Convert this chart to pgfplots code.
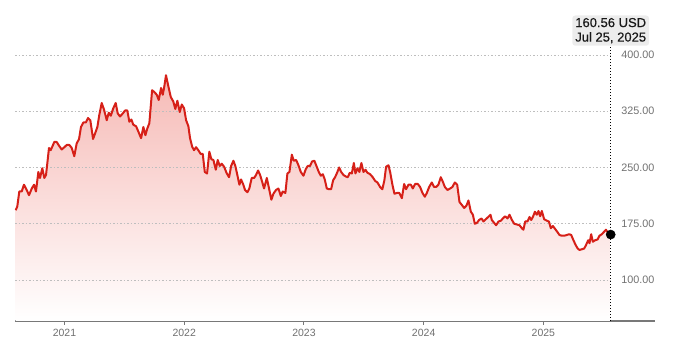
\documentclass[border=0pt]{standalone}
\usepackage{pgfplots}
\pgfplotsset{compat=1.18}
\usepackage{pgfplotstable}
\usepackage{fontspec}
\setmainfont{Liberation Sans}
\newfontface\tipfont{Liberation Sans}[FakeBold=0.6]
\definecolor{linered}{RGB}{214,32,24}
\definecolor{filltop}{RGB}{246,186,182}
\definecolor{fillmid}{RGB}{254,238,237}
\definecolor{ticktext}{RGB}{112,112,112}
\definecolor{axisgray}{RGB}{120,120,120}
\definecolor{gridgray}{RGB}{190,190,190}
\definecolor{tipbg}{RGB}{236,236,236}

\pgfplotstableread{
x y
2020.593 193
2020.606 198
2020.623 218
2020.643 218
2020.662 227
2020.685 220
2020.704 213
2020.727 222
2020.746 227
2020.762 218
2020.782 244
2020.796 236
2020.815 249
2020.832 236
2020.846 240
2020.871 276
2020.885 273
2020.899 278
2020.915 284
2020.935 284
2020.955 279
2020.977 274
2020.999 277
2021.019 280
2021.041 280
2021.061 276
2021.082 265
2021.102 282
2021.122 288
2021.138 304
2021.158 310
2021.178 310
2021.197 316
2021.216 313
2021.239 288
2021.255 295
2021.275 304
2021.291 320
2021.311 336
2021.331 327
2021.353 313
2021.370 323
2021.387 319
2021.408 329
2021.428 336
2021.445 322
2021.464 318
2021.487 322
2021.506 326
2021.525 326
2021.542 311
2021.559 314
2021.575 307
2021.598 305
2021.617 298
2021.640 289
2021.659 304
2021.676 293
2021.692 302
2021.709 309
2021.732 353
2021.748 351
2021.771 347
2021.787 340
2021.807 356
2021.821 347
2021.834 358
2021.848 373
2021.868 358
2021.888 344
2021.909 338
2021.926 328
2021.943 339
2021.963 324
2021.980 334
2021.999 329
2022.016 313
2022.035 305
2022.049 289
2022.066 278
2022.082 273
2022.099 277
2022.118 273
2022.138 268
2022.155 268
2022.172 244
2022.191 242
2022.210 271
2022.227 261
2022.244 260
2022.264 247
2022.280 260
2022.297 252
2022.314 255
2022.333 251
2022.356 242
2022.375 237
2022.392 252
2022.411 259
2022.427 252
2022.444 240
2022.461 227
2022.475 234
2022.494 227
2022.508 220
2022.528 217
2022.544 222
2022.564 236
2022.584 236
2022.600 240
2022.617 246
2022.634 240
2022.651 231
2022.667 222
2022.690 236
2022.706 224
2022.728 207
2022.745 215
2022.767 220
2022.787 222
2022.807 212
2022.823 218
2022.845 216
2022.862 242
2022.879 244
2022.899 267
2022.915 259
2022.935 260
2022.954 253
2022.974 244
2022.996 239
2023.016 248
2023.032 252
2023.051 252
2023.068 258
2023.087 259
2023.107 251
2023.124 244
2023.141 239
2023.158 241
2023.174 234
2023.191 222
2023.210 221
2023.227 221
2023.244 233
2023.260 237
2023.277 243
2023.294 250
2023.311 244
2023.330 240
2023.350 238
2023.366 237
2023.383 243
2023.400 242
2023.417 256
2023.430 242
2023.447 249
2023.463 244
2023.480 256
2023.497 244
2023.514 247
2023.530 243
2023.553 241
2023.575 237
2023.595 232
2023.614 230
2023.636 224
2023.655 221
2023.672 233
2023.686 251
2023.706 253
2023.720 244
2023.739 227
2023.756 215
2023.776 216
2023.797 216
2023.818 209
2023.837 228
2023.853 221
2023.873 227
2023.893 227
2023.909 222
2023.929 228
2023.951 228
2023.970 224
2023.990 216
2024.010 211
2024.026 216
2024.046 224
2024.068 230
2024.087 224
2024.104 224
2024.123 227
2024.143 237
2024.160 231
2024.177 224
2024.199 220
2024.221 222
2024.240 224
2024.260 230
2024.280 227
2024.299 204
2024.319 200
2024.338 196
2024.357 199
2024.374 206
2024.394 191
2024.411 187
2024.427 175
2024.444 176
2024.463 180
2024.483 182
2024.499 178
2024.519 181
2024.539 184
2024.558 187
2024.569 180
2024.589 176
2024.605 173
2024.625 178
2024.645 179
2024.661 182
2024.681 185
2024.700 182
2024.717 187
2024.737 180
2024.756 175
2024.778 174
2024.800 173
2024.820 169
2024.833 167
2024.848 178
2024.867 178
2024.884 184
2024.898 180
2024.912 184
2024.929 191
2024.945 187
2024.959 192
2024.973 185
2024.987 192
2025.006 181
2025.029 179
2025.046 178
2025.062 169
2025.079 172
2025.098 168
2025.117 164
2025.134 160
2025.154 159
2025.174 159
2025.196 160
2025.215 161
2025.232 160
2025.251 153
2025.268 147
2025.286 142
2025.302 140
2025.322 141
2025.341 142
2025.357 147
2025.374 153
2025.385 149
2025.399 161
2025.413 151
2025.432 153
2025.452 154
2025.468 159
2025.488 161
2025.505 164
2025.522 167
2025.535 164
2025.562 160.56
}\pricedata

\begin{document}
\begin{tikzpicture}[x=1pt,y=1pt]
\path[use as bounding box] (0,0) rectangle (680,347);
\begin{axis}[
  at={(15pt,26pt)}, anchor=south west,
  scale only axis, width=640pt, height=311pt,
  xmin=2020.587, xmax=2025.932,
  ymin=45.3, ymax=460,
  separate axis lines,
  axis x line*=bottom, axis y line*=right,
  x axis line style={axisgray, line width=1.4pt, -},
  y axis line style={draw=none},
  xtick={2021,2022,2023,2024,2025},
  xticklabels={2021,2022,2023,2024,2025},
  xtick align=outside,
  major tick length=4pt,
  xtick style={axisgray, line width=0.9pt},
  xticklabel style={font=\fontsize{10.5}{12}\selectfont, text=ticktext, yshift=-1pt},
  ytick={100,175,250,325,400},
  yticklabels={100.00,175.00,250.00,325.00,400.00},
  yticklabel pos=right,
  ytick style={draw=none},
  yticklabel style={font=\fontsize{10.8}{12}\selectfont, text=ticktext, anchor=east, xshift=3pt},
  clip=false,
]
\addplot[draw=none, top color=filltop, middle color=fillmid, bottom color=white] table[x=x,y=y] {\pricedata} |- (axis cs:2020.593,45.3) -- cycle;
\foreach \g in {100,175,250,325,400}{
  \edef\tmp{\noexpand\draw[gridgray, line width=0.8pt, dash pattern=on 1.5pt off 2pt] (axis cs:2020.587,\g) -- (axis cs:2025.562,\g);}
  \tmp
}
\draw[black, line width=1.2pt, dash pattern=on 1.3pt off 1.7pt] (axis cs:2025.562,45.3) -- (axis cs:2025.562,412);
\addplot[linered, line width=2pt, line join=round] table[x=x,y=y] {\pricedata};
\addplot[only marks, mark=*, mark size=4.6pt, black] coordinates {(2025.562,160.56)};
\node[fill=tipbg, rounded corners=3pt, align=center, inner xsep=3pt, inner ysep=2.5pt, text={rgb,255:red,25;green,25;blue,25}, font=\tipfont\fontsize{13}{14.5}\selectfont] at (axis cs:2025.562,432.5) {160.56 USD\\Jul 25, 2025};
\end{axis}
\end{tikzpicture}
\end{document}
